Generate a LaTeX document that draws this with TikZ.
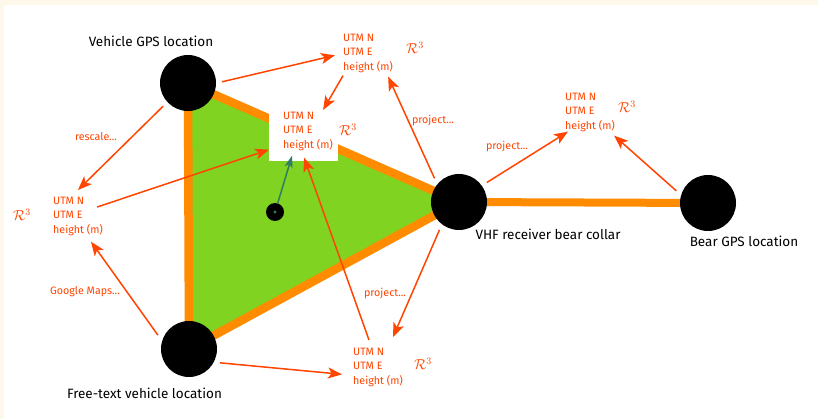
\documentclass[tikz,border=0pt]{standalone}
\usepackage{fontspec}
\setmainfont{Fira Sans}
\usetikzlibrary{arrows.meta,calc}
\definecolor{cream}{RGB}{253,248,234}
\definecolor{ored}{RGB}{255,69,0}
\definecolor{edgeor}{RGB}{255,140,0}
\definecolor{trigreen}{RGB}{128,211,33}
\definecolor{tealc}{RGB}{46,125,100}
\begin{document}
\begin{tikzpicture}[x=1pt,y=-1pt,
  bignode/.style={circle,fill=black,minimum size=56pt,inner sep=0pt,outer sep=6pt},
  utm/.style={text=ored,font=\fontsize{10.7}{14.3}\selectfont,align=left,inner sep=0pt,anchor=north west},
  rr/.style={text=ored,font=\fontsize{14.5}{14.5}\selectfont,inner sep=0pt},
  lbl/.style={text=black,font=\fontsize{13.5}{16}\selectfont,inner sep=0pt},
  smalllbl/.style={text=ored,font=\fontsize{10.7}{13}\selectfont,inner sep=0pt},
  arr/.style={ored,line width=1.5pt,-{Stealth[length=14pt,width=11pt,inset=3.5pt]}},
  tarr/.style={tealc,line width=1.5pt,-{Stealth[length=12pt,width=8pt,inset=3pt]}},
  triedge/.style={edgeor,line width=8.5pt}]
\useasboundingbox (0,0) rectangle (818,419);
\fill[cream] (0,0) rectangle (818,419);
\fill[white] (4,5) rectangle (818,419);

% coordinates of the main nodes
\coordinate (vehc) at (188,83);
\coordinate (frc) at (189,349);
\coordinate (vhfc) at (459,202);
\coordinate (bearc) at (708,203);

% triangle
\fill[trigreen] (vehc) -- (vhfc) -- (frc) -- cycle;
\draw[triedge] (vehc) -- (frc);
\draw[triedge] (vehc) -- (vhfc);
\draw[triedge] (frc) -- (vhfc);
\draw[edgeor,line width=8pt] (vhfc) -- (bearc);

% white box behind central label
\fill[white] (269,105) rectangle (338,161);

% main nodes
\node[bignode] (veh) at (vehc) {};
\node[bignode] (fr) at (frc) {};
\node[bignode] (vhf) at (vhfc) {};
\node[bignode] (bear) at (bearc) {};

\node[circle,fill=black,minimum size=18pt,inner sep=0pt] (dotn) at (275,212) {};
\fill[tealc] (dotn.center) circle (1.6);

% labels
\node[lbl] (lveh) at (151,41) {Vehicle GPS location};
\node[lbl] (lfr) at (144.5,393) {Free-text vehicle location};
\node[lbl] (lvhf) at (548,234) {VHF receiver bear collar};
\node[lbl] (lbear) at (744,241) {Bear GPS location};

% UTM boxes
\node[utm] (topb) at (343,34) {UTM N\\UTM E\\height (m)};
\node[utm] (cenb) at (283,112) {UTM N\\UTM E\\height (m)};
\node[utm] (leftb) at (53,197) {UTM N\\UTM E\\height (m)};
\node[utm] (botb) at (353,348) {UTM N\\UTM E\\height (m)};
\node[utm] (rightb) at (565,93) {UTM N\\UTM E\\height (m)};

\node[rr] (rtop) at (415,48) {$\mathcal{R}^3$};
\node[rr] (rcen) at (348,130) {$\mathcal{R}^3$};
\node[rr] (rleft) at (22,215) {$\mathcal{R}^3$};
\node[rr] (rbot) at (423,364) {$\mathcal{R}^3$};
\node[rr] (rright) at (627,107) {$\mathcal{R}^3$};

% small labels
\node[smalllbl] (lres) at (96,137) {rescale...};
\node[smalllbl] (lgm) at (85,292) {Google Maps...};
\node[smalllbl] (lp1) at (433,120) {project...};
\node[smalllbl] (lp2) at (507,146) {project...};
\node[smalllbl] (lp3) at (385,293) {project...};

% arrows
\draw[arr] (veh.2) -- ($(topb.west)+(-8,2)$);
\draw[arr] ($(topb.south west)+(0,3)$) -- ($(cenb.north)+(15,-2)$);
\draw[arr] (vhf.136) -- ($(topb.south east)+(-5,4)$);
\draw[arr] (veh.-137) -- ($(leftb.north west)+(25,-7)$);
\draw[arr] ($(leftb.north east)+(-6,10)$) -- ($(cenb.south west)+(-14,-1)$);
\draw[arr] (fr.156) -- ($(leftb.south west)+(38,6)$);
\draw[arr] (fr.-24) -- ($(botb.west)+(-11,7)$);
\draw[arr] ($(botb.north west)+(16,-8)$) -- ($(cenb.south)+(-4,7)$);
\draw[arr] (vhf.-125) -- ($(botb.north west)+(40,-11)$);
\draw[arr] (vhf.35) -- ($(rightb.south west)+(3,0)$);
\draw[arr] (bear.159) -- ($(rightb.south east)+(-1,4)$);
\draw[tarr] (dotn) -- ($(cenb.south)+(-16,5)$);
\end{tikzpicture}
\end{document}
